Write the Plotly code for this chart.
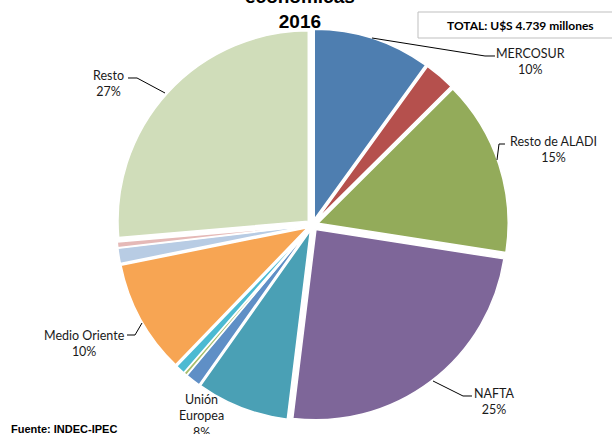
import plotly.graph_objects as go

# Data (share of exports by economic zone, 2016)
zones = ["MERCOSUR", "Chile", "Resto de ALADI", "NAFTA", "Unión Europea",
         "Resto de Europa", "ASEAN", "Magreb y Egipto", "Medio Oriente",
         "China", "India", "Resto"]
shares = [10.0, 2.6, 15.0, 24.6, 7.9, 1.3, 0.3, 0.8, 9.7, 1.3, 0.5, 26.5]
colors = ["#4E7EB0", "#B5504D", "#93AB5A", "#7E6699", "#4AA0B5", "#5F8FC6",
          "#A9BE6C", "#4CBAD2", "#F7A553", "#B8CCE4", "#E5B9B7", "#D0DDBA"]
label_text = {
    "MERCOSUR": "MERCOSUR<br>10%",
    "Resto de ALADI": "Resto de ALADI<br>15%",
    "NAFTA": "NAFTA<br>25%",
    "Unión Europea": "Unión<br>Europea<br>8%",
    "Medio Oriente": "Medio Oriente<br>10%",
    "Resto": "Resto<br>27%",
}
title_lines = ["económicas", "2016"]
total_text = "TOTAL: U$S 4.739 millones"
source_text = "Fuente: INDEC-IPEC"

W, H = 612, 434

def px(x):
    return x / W

def py(y):
    return 1 - y / H

fig = go.Figure()
fig.add_trace(go.Pie(
    labels=zones, values=shares, sort=False, direction="clockwise", rotation=0,
    marker=dict(colors=colors, line=dict(color="white", width=1.5)),
    pull=[0.03] * len(zones), textinfo="none", hoverinfo="label+percent",
    showlegend=False,
    domain=dict(x=[0.1903, 0.8309], y=[0.0300, 0.9332]),
))

lab_font = dict(family="Lato, Open Sans, sans-serif", size=12.5, color="#1A1A1A")

# label positions (pixel centers) and leader line paths
labels_layout = [
    ("MERCOSUR", 530, 61, "M 372 38 L 485 56 L 495 56"),
    ("Resto de ALADI", 553, 149, "M 497 160 L 499 144 L 505 144"),
    ("NAFTA", 494, 401, "M 433 381 L 463 396 L 472 396"),
    ("Unión Europea", 201, 416, None),
    ("Medio Oriente", 84, 343, "M 142 323 L 135 335 L 127 335"),
    ("Resto", 108, 83, "M 165 93 L 137 78 L 128 78"),
]
annotations = []
shapes = []
for name, x, y, path in labels_layout:
    annotations.append(dict(
        x=px(x), y=py(y), xref="paper", yref="paper", text=label_text[name],
        showarrow=False, font=lab_font, align="center",
        xanchor="center", yanchor="middle"))
    if path:
        toks = path.split()
        out = []
        i = 0
        while i < len(toks):
            out.append(toks[i])
            out.append(f"{px(float(toks[i+1])):.5f}")
            out.append(f"{py(float(toks[i+2])):.5f}")
            i += 3
        shapes.append(dict(type="path", path=" ".join(out), xref="paper", yref="paper",
                           line=dict(color="black", width=1)))

# title (partially cut at top, as in the reference)
annotations.append(dict(
    x=px(300), y=py(34), xref="paper", yref="paper",
    text="<br>".join(f"<b>{t}</b>" for t in title_lines),
    showarrow=False, xanchor="center", yanchor="bottom",
    font=dict(family="Liberation Sans, Arial, sans-serif", size=19, color="black")))

# total box
shapes.append(dict(type="rect", xref="paper", yref="paper",
                   x0=px(418), x1=px(640), y0=py(38), y1=py(12),
                   line=dict(color="#BFBFBF", width=1), fillcolor="white"))
annotations.append(dict(
    x=px(520), y=py(25), xref="paper", yref="paper", text=f"<b>{total_text}</b>",
    showarrow=False, xanchor="center", yanchor="middle",
    font=dict(family="Lato, Open Sans, sans-serif", size=12, color="black")))

# source
annotations.append(dict(
    x=px(9), y=py(429), xref="paper", yref="paper", text=f"<b>{source_text}</b>",
    showarrow=False, xanchor="left", yanchor="middle",
    font=dict(family="Liberation Sans, Arial, sans-serif", size=11, color="black")))

fig.update_layout(
    width=W, height=H, margin=dict(l=0, r=0, t=0, b=0),
    paper_bgcolor="white", plot_bgcolor="white",
    annotations=annotations, shapes=shapes,
)
fig.write_html("out.html", config={"displayModeBar": False},
               post_script="document.body.style.margin='0';document.body.style.overflow='hidden';")
